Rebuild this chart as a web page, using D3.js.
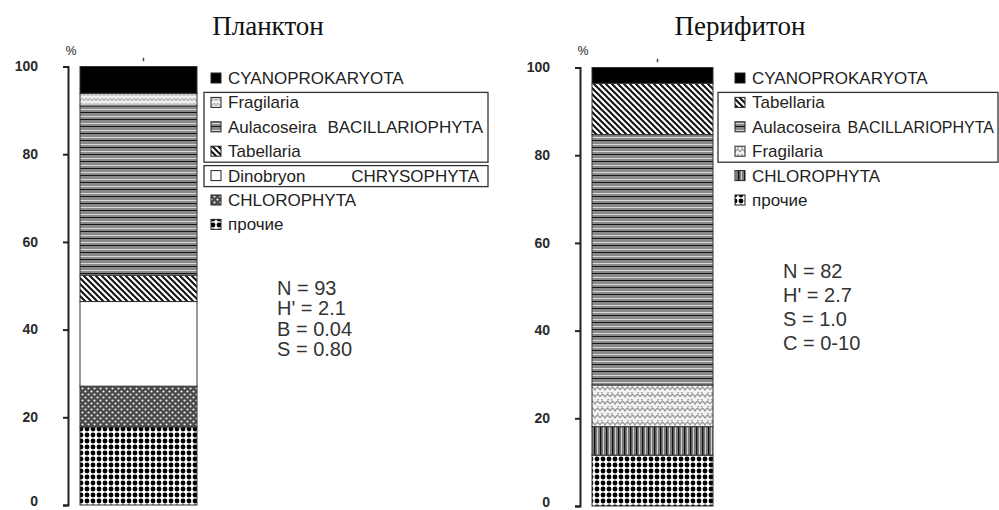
<!DOCTYPE html>
<html><head><meta charset="utf-8">
<script src="https://cdn.jsdelivr.net/npm/d3@7"></script>
<style>
html,body{margin:0;padding:0;background:#fff;}
svg{display:block;}
</style>
</head><body>
<svg id="chart" width="999" height="510"></svg>
<script>
// ---- data ----
const titles = ["Планктон", "Перифитон"];
const tickValues = [0, 20, 40, 60, 80, 100];
const unitLabel = "%";

// stacked from bottom to top
const leftCategories = ["прочие", "CHLOROPHYTA", "Dinobryon", "Tabellaria", "Aulacoseira", "Fragilaria", "CYANOPROKARYOTA"];
const leftValues = [17.8, 9.3, 19.3, 6.0, 38.6, 2.9, 6.1];
const leftPatterns = ["prochie", "chlL", "white", "tab", "aul", "fragL", "black"];
// legend from top to bottom
const leftLegend = ["CYANOPROKARYOTA", "Fragilaria", "Aulacoseira", "Tabellaria", "Dinobryon", "CHLOROPHYTA", "прочие"];
const leftGroups = [{label: "BACILLARIOPHYTA", from: 1, to: 3}, {label: "CHRYSOPHYTA", from: 4, to: 4}];
const leftStats = ["N = 93", "H' = 2.1", "B = 0.04", "S = 0.80"];

const rightCategories = ["прочие", "CHLOROPHYTA", "Fragilaria", "Aulacoseira", "Tabellaria", "CYANOPROKARYOTA"];
const rightValues = [11.6, 6.5, 9.5, 57.1, 11.7, 3.6];
const rightPatterns = ["prochie", "chlR", "fragR", "aul", "tab", "black"];
const rightLegend = ["CYANOPROKARYOTA", "Tabellaria", "Aulacoseira", "Fragilaria", "CHLOROPHYTA", "прочие"];
const rightGroups = [{label: "BACILLARIOPHYTA", from: 1, to: 3}];
const rightStats = ["N = 82", "H' = 2.7", "S = 1.0", "C = 0-10"];

// ---- drawing ----
const svg = d3.select("#chart");
svg.append("rect").attr("width", 999).attr("height", 510).attr("fill", "#fff");
const defs = svg.append("defs");

function pat(id, w, h, build) {
  const p = defs.append("pattern").attr("id", id).attr("patternUnits", "userSpaceOnUse")
    .attr("width", w).attr("height", h);
  build(p);
}
pat("black", 4, 4, p => p.append("rect").attr("width", 4).attr("height", 4).attr("fill", "#000"));
pat("white", 4, 4, p => p.append("rect").attr("width", 4).attr("height", 4).attr("fill", "#fff"));
pat("fragL", 8, 5, p => {
  p.append("rect").attr("width", 8).attr("height", 5).attr("fill", "#c4c4c4");
  p.append("path").attr("d", "M0,3 L2,1 L4,3 L6,1 L8,3").attr("stroke", "#fff").attr("stroke-width", 1.3).attr("fill", "none");
});
pat("aul", 4, 7, p => {
  p.append("rect").attr("width", 4).attr("height", 7).attr("fill", "#8a8a8a");
  p.append("rect").attr("y", 0).attr("width", 4).attr("height", 1).attr("fill", "#151515");
  p.append("rect").attr("y", 4).attr("width", 4).attr("height", 1).attr("fill", "#d8d8d8");
});
pat("tab", 6, 6, p => {
  p.append("rect").attr("width", 6).attr("height", 6).attr("fill", "#fff");
  p.append("path").attr("d", "M-1,-1 L7,7 M-4,2 L2,8 M2,-4 L8,2").attr("stroke", "#111").attr("stroke-width", 2);
});
pat("chlL", 6, 6, p => {
  p.append("rect").attr("width", 6).attr("height", 6).attr("fill", "#4a4a4a");
  p.append("circle").attr("cx", 1.5).attr("cy", 1.5).attr("r", 1.1).attr("fill", "#eee");
  p.append("circle").attr("cx", 4.5).attr("cy", 4.5).attr("r", 1.1).attr("fill", "#eee");
});
pat("prochie", 6, 6, p => {
  p.append("rect").attr("width", 6).attr("height", 6).attr("fill", "#fff");
  p.append("circle").attr("cx", 3).attr("cy", 3).attr("r", 2.4).attr("fill", "#000");
});
pat("fragR", 10, 7, p => {
  p.append("rect").attr("width", 10).attr("height", 7).attr("fill", "#f4f4f4");
  p.append("path").attr("d", "M0,5 Q2.5,0 5,5 Q7.5,0 10,5 M-2.5,1.5 Q0,-3 2.5,1.5 M7.5,1.5 Q10,-3 12.5,1.5").attr("stroke", "#9a9a9a").attr("stroke-width", 1.3).attr("fill", "none");
});
pat("chlR", 6, 4, p => {
  p.append("rect").attr("width", 6).attr("height", 4).attr("fill", "#7a7a7a");
  p.append("rect").attr("x", 0).attr("width", 1.3).attr("height", 4).attr("fill", "#111");
  p.append("rect").attr("x", 3).attr("width", 1).attr("height", 4).attr("fill", "#d0d0d0");
});

function panel(cfg) {
  const g = svg.append("g");
  const y = d3.scaleLinear().domain([0, 100]).range([cfg.y0, cfg.y100]);
  const x = d3.scaleBand().domain(["bar"]).range([cfg.barL, cfg.barR]).padding(0);

  // title
  g.append("text").attr("x", cfg.titleX).attr("y", 35).attr("text-anchor", "middle")
    .attr("font-family", "Liberation Serif, Times New Roman, serif").attr("font-size", 27)
    .attr("fill", "#111").text(cfg.title);

  // axis
  const ax = g.append("g").attr("transform", `translate(${cfg.axisX},0)`)
    .call(d3.axisLeft(y).tickValues(tickValues).tickSize(5).tickSizeOuter(5).tickPadding(25));
  ax.selectAll("path,line").attr("stroke", "#222").attr("stroke-width", 2);
  ax.selectAll("text").attr("font-family", "Liberation Sans, Arial, sans-serif").attr("font-size", 14)
    .attr("font-weight", "bold").attr("fill", "#2a2a2a").attr("dy", d => d === 0 ? "0.05em" : "0.3em");

  g.append("text").attr("x", cfg.axisX + 3).attr("y", 55).attr("text-anchor", "middle")
    .attr("font-family", "Liberation Sans, Arial, sans-serif").attr("font-size", 12).attr("fill", "#222").text(unitLabel);

  // small mark above bar
  g.append("line").attr("x1", x("bar") + x.bandwidth() / 2 + 5).attr("x2", x("bar") + x.bandwidth() / 2 + 5)
    .attr("y1", y(102)).attr("y2", y(101.2)).attr("stroke", "#444").attr("stroke-width", 1.5);

  // stacked segments
  const ends = d3.cumsum(cfg.values);
  const segs = cfg.values.map((v, i) => ({cat: cfg.cats[i], pat: cfg.pats[i], y0: ends[i] - v, y1: ends[i]}));
  g.selectAll("rect.seg").data(segs).join("rect").attr("class", "seg")
    .attr("x", x("bar")).attr("width", x.bandwidth())
    .attr("y", d => y(d.y1)).attr("height", d => y(d.y0) - y(d.y1))
    .attr("fill", d => `url(#${d.pat})`).attr("stroke", "#333").attr("stroke-width", 1);

  // legend
  const lg = g.append("g");
  cfg.legend.forEach((name, i) => {
    const idx = cfg.cats.indexOf(name);
    const cy = cfg.legY + i * cfg.legStep;
    lg.append("rect").attr("x", cfg.legX - 17).attr("y", cy - 5).attr("width", 10).attr("height", 10)
      .attr("fill", `url(#${cfg.pats[idx]})`).attr("stroke", "#222").attr("stroke-width", 1);
    lg.append("text").attr("x", cfg.legX).attr("y", cy + 6)
      .attr("font-family", "Liberation Sans, Arial, sans-serif").attr("font-size", 17).attr("fill", "#222").text(name);
  });
  cfg.groups.forEach((gr, k) => {
    const top = cfg.legY + gr.from * cfg.legStep - 10;
    const bot = cfg.legY + gr.to * cfg.legStep + 11;
    lg.append("rect").attr("x", cfg.boxL).attr("y", top).attr("width", cfg.boxR - cfg.boxL).attr("height", bot - top)
      .attr("fill", "none").attr("stroke", "#333").attr("stroke-width", 1.3);
    const midRow = (gr.from + gr.to) / 2;
    lg.append("text").attr("x", cfg.groupX[k]).attr("y", cfg.legY + midRow * cfg.legStep + 6)
      .attr("text-anchor", "end")
      .attr("font-family", "Liberation Sans, Arial, sans-serif").attr("font-size", cfg.groupSize).attr("fill", "#222").text(gr.label);
  });

  // stats
  cfg.stats.forEach((s, i) => {
    g.append("text").attr("x", cfg.statX).attr("y", cfg.statY + i * cfg.statStep)
      .attr("font-family", "Liberation Sans, Arial, sans-serif").attr("font-size", 20).attr("fill", "#333").text(s);
  });
}

panel({
  title: titles[0], titleX: 268, axisX: 68, y0: 505, y100: 66.5, barL: 80, barR: 197,
  cats: leftCategories, values: leftValues, pats: leftPatterns, legend: leftLegend, groups: leftGroups,
  legX: 228, legY: 78, legStep: 24.4, boxL: 204, boxR: 488, groupX: [483, 479], groupSize: 17,
  stats: leftStats, statX: 277, statY: 295, statStep: 20.3
});
panel({
  title: titles[1], titleX: 740, axisX: 580, y0: 506, y100: 67.5, barL: 592, barR: 713,
  cats: rightCategories, values: rightValues, pats: rightPatterns, legend: rightLegend, groups: rightGroups,
  legX: 752, legY: 78, legStep: 24.4, boxL: 718, boxR: 998, groupX: [994], groupSize: 16,
  stats: rightStats, statX: 783, statY: 278, statStep: 24
});
</script>
</body></html>
